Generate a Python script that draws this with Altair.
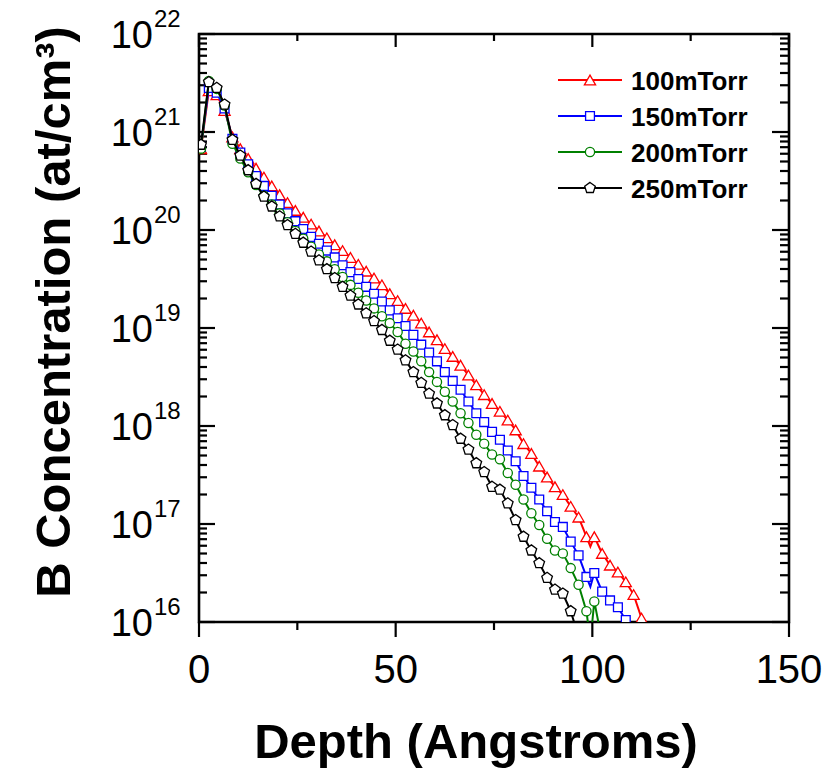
import altair as alt
import pandas as pd

# ---------------- data ----------------
depth = [0.5, 2.5, 4.5, 6.5, 8.5, 10.5, 12.5, 14.5, 16.5, 18.5, 20.5, 22.5, 24.5, 26.5,
         28.5, 30.5, 32.5, 34.5, 36.5, 38.5, 40.5, 42.5, 44.5, 46.5, 48.5, 50.5, 52.5,
         54.5, 56.5, 58.5, 60.5, 62.5, 64.5, 66.5, 68.5, 70.5, 72.5, 74.5, 76.5, 78.5,
         80.5, 82.5, 84.5, 86.5, 88.5, 90.5, 92.5, 94.5, 96.5, 98.5, 99.5, 100.5, 102.5,
         104.5, 106.5, 108.5, 110.5, 112.5, 114.5]

# log10 of B concentration (at/cm^3)
log_100 = [20.83, 21.42, 21.38, 21.22, 20.95, 20.83, 20.73, 20.63, 20.54, 20.45, 20.36, 20.28,
           20.20, 20.13, 20.06, 19.99, 19.92, 19.85, 19.79, 19.72, 19.65, 19.58, 19.51, 19.44,
           19.35, 19.28, 19.20, 19.13, 19.05, 18.96, 18.88, 18.79, 18.71, 18.62, 18.52, 18.42,
           18.32, 18.23, 18.15, 18.06, 17.96, 17.82, 17.72, 17.59, 17.48, 17.38, 17.30, 17.18,
           17.07, 16.87, 16.77, 16.87, 16.70, 16.58, 16.51, 16.41, 16.28, 16.04, 15.90]
log_150 = [20.85, 21.45, 21.40, 21.24, 20.93, 20.79, 20.67, 20.55, 20.45, 20.35, 20.26, 20.17,
           20.09, 20.01, 19.93, 19.86, 19.79, 19.72, 19.64, 19.57, 19.50, 19.42, 19.35, 19.27,
           19.18, 19.10, 19.02, 18.93, 18.83, 18.75, 18.66, 18.55, 18.46, 18.37, 18.25, 18.13,
           18.04, 17.94, 17.86, 17.75, 17.64, 17.49, 17.37, 17.25, 17.13, 17.02, 16.97, 16.82,
           16.68, 16.46, 16.36, 16.50, 16.31, 16.22, 16.15, 16.02, 15.85, None, None]
log_200 = [20.83, 21.52, 21.44, 21.27, 20.88, 20.73, 20.59, 20.46, 20.35, 20.26, 20.17, 20.08,
           19.99, 19.91, 19.83, 19.75, 19.68, 19.60, 19.52, 19.44, 19.36, 19.28, 19.20, 19.12,
           19.05, 18.96, 18.84, 18.76, 18.66, 18.55, 18.45, 18.35, 18.25, 18.13, 18.03, 17.91,
           17.82, 17.71, 17.66, 17.52, 17.40, 17.25, 17.11, 16.99, 16.85, 16.73, 16.70, 16.55,
           16.38, 16.11, 15.80, 16.21, 15.80, None, None, None, None, None, None]
log_250 = [20.87, 21.51, 21.45, 21.28, 20.92, 20.76, 20.61, 20.47, 20.34, 20.24, 20.14, 20.05,
           19.96, 19.87, 19.78, 19.69, 19.60, 19.51, 19.42, 19.33, 19.24, 19.15, 19.07, 18.98,
           18.87, 18.78, 18.67, 18.55, 18.44, 18.33, 18.23, 18.11, 18.01, 17.87, 17.76, 17.62,
           17.53, 17.38, 17.35, 17.21, 17.04, 16.87, 16.73, 16.60, 16.45, 16.33, 16.29, 16.11,
           15.85, None, None, None, None, None, None, None, None, None, None]

series_names = ["100mTorr", "150mTorr", "200mTorr", "250mTorr"]
series_logs = [log_100, log_150, log_200, log_250]
series_colors = ["#ff0000", "#0000ff", "#008000", "#000000"]
pentagon = "M0,-1L0.951,-0.309L0.588,0.809L-0.588,0.809L-0.951,-0.309Z"
series_shapes = ["triangle-up", "square", "circle", pentagon]
series_sizes = [125, 78, 85, 125]
no_marker_depths = [99.5]

# axis tick values / labels
x_major = [0, 50, 100, 150]
x_major_labels = ["0", "50", "100", "150"]
x_minor = [25, 75, 125]
y_exponents = [16, 17, 18, 19, 20, 21, 22]
y_minor_mult = [2, 3, 4, 5, 6, 7, 8, 9]

# ---------------- tables ----------------
rows = []
for name, logs in zip(series_names, series_logs):
    for d, v in zip(depth, logs):
        if v is not None:
            rows.append({"depth": d, "conc": 10.0 ** v, "series": name,
                         "marker": d not in no_marker_depths})
df = pd.DataFrame(rows)

ymaj = pd.DataFrame({"v": [10.0 ** e for e in y_exponents], "e": [str(e) for e in y_exponents]})
ymin = pd.DataFrame({"v": [m * 10.0 ** e for e in y_exponents[:-1] for m in y_minor_mult]})
xmaj = pd.DataFrame({"v": x_major, "lab": x_major_labels})
xmin = pd.DataFrame({"v": x_minor})

W, H = 590, 588
FONT = "Liberation Sans"
xs = alt.Scale(domain=[0, 150], nice=False, zero=False)
ys = alt.Scale(type="log", domain=[1e16, 1e22], nice=False)


def X(f):
    return alt.X(f, type="quantitative", scale=xs, axis=None)


def Y(f):
    return alt.Y(f, type="quantitative", scale=ys, axis=None)


layers = []
TW = 2.2
# left / right ticks (inward)
layers.append(alt.Chart(ymaj).mark_rule(color="black", strokeWidth=TW).encode(
    y=Y("v"), x=alt.value(0), x2=alt.value(16)))
layers.append(alt.Chart(ymin).mark_rule(color="black", strokeWidth=TW).encode(
    y=Y("v"), x=alt.value(0), x2=alt.value(8)))
layers.append(alt.Chart(ymaj).mark_rule(color="black", strokeWidth=TW).encode(
    y=Y("v"), x=alt.value(W - 17), x2=alt.value(W)))
layers.append(alt.Chart(ymin).mark_rule(color="black", strokeWidth=TW).encode(
    y=Y("v"), x=alt.value(W - 9), x2=alt.value(W)))
# top ticks (inward), bottom ticks (outward)
layers.append(alt.Chart(xmaj).mark_rule(color="black", strokeWidth=TW).encode(
    x=X("v"), y=alt.value(0), y2=alt.value(13)))
layers.append(alt.Chart(xmin).mark_rule(color="black", strokeWidth=TW).encode(
    x=X("v"), y=alt.value(0), y2=alt.value(7)))
layers.append(alt.Chart(xmaj).mark_rule(color="black", strokeWidth=TW).encode(
    x=X("v"), y=alt.value(H), y2=alt.value(H + 15)))
layers.append(alt.Chart(xmin).mark_rule(color="black", strokeWidth=TW).encode(
    x=X("v"), y=alt.value(H), y2=alt.value(H + 8)))

# y tick labels 10^n
layers.append(alt.Chart(ymaj).mark_text(align="right", baseline="alphabetic", dy=14,
                                        fontSize=38, font=FONT, color="black").encode(
    y=Y("v"), x=alt.value(-46), text=alt.value("10")))
layers.append(alt.Chart(ymaj).mark_text(align="left", baseline="alphabetic", dy=-7,
                                        fontSize=24, font=FONT, color="black").encode(
    y=Y("v"), x=alt.value(-45), text="e:N"))
# x tick labels
layers.append(alt.Chart(xmaj).mark_text(align="center", baseline="alphabetic",
                                        fontSize=40, font=FONT, color="black").encode(
    x=X("v"), y=alt.value(H + 61), text="lab:N"))

# axis titles
layers.append(alt.Chart(pd.DataFrame({"t": ["Depth (Angstroms)"]})).mark_text(
    align="center", baseline="alphabetic", fontSize=49, fontWeight="bold", font=FONT,
    color="black").encode(x=alt.value(277), y=alt.value(H + 136), text="t:N"))
layers.append(alt.Chart(pd.DataFrame({"t": ["B Concentration (at/cm³)"]})).mark_text(
    align="center", baseline="alphabetic", fontSize=49, fontWeight="bold", font=FONT,
    angle=270, color="black").encode(x=alt.value(-129), y=alt.value(278), text="t:N"))

# series
for name, col, shp, sz in zip(series_names, series_colors, series_shapes, series_sizes):
    base = alt.Chart(df).transform_filter(alt.datum.series == name)
    layers.append(base.mark_line(color=col, strokeWidth=2, clip=True).encode(
        x=X("depth"), y=Y("conc"), order="depth:Q"))
    layers.append(base.transform_filter(alt.datum.marker).mark_point(
        shape=shp, size=sz, filled=True, fill="white", stroke=col, strokeWidth=1.3,
        opacity=1, clip=True).encode(x=X("depth"), y=Y("conc")))

# legend
one = pd.DataFrame({"k": [0]})
for i, (name, col, shp, sz) in enumerate(zip(series_names, series_colors, series_shapes, series_sizes)):
    yy = 46 + 36 * i
    layers.append(alt.Chart(one).mark_rule(color=col, strokeWidth=2).encode(
        x=alt.value(359), x2=alt.value(423), y=alt.value(yy)))
    layers.append(alt.Chart(one).mark_point(
        shape=shp, size=sz, filled=True, fill="white", stroke=col, strokeWidth=1.3,
        opacity=1).encode(x=alt.value(391), y=alt.value(yy)))
    layers.append(alt.Chart(one).mark_text(
        align="left", baseline="middle", dy=2, fontSize=26, fontWeight="bold", font=FONT,
        color="black").encode(x=alt.value(432), y=alt.value(yy), text=alt.value(name)))

chart = alt.layer(*layers).properties(
    width=W, height=H,
    autosize=alt.AutoSizeParams(type="none"),
    padding={"left": 199, "top": 34, "right": 46, "bottom": 151},
    background="white",
).configure_view(stroke="black", strokeWidth=2.6)

chart.save("out.html", embed_options={"renderer": "svg", "actions": False})
